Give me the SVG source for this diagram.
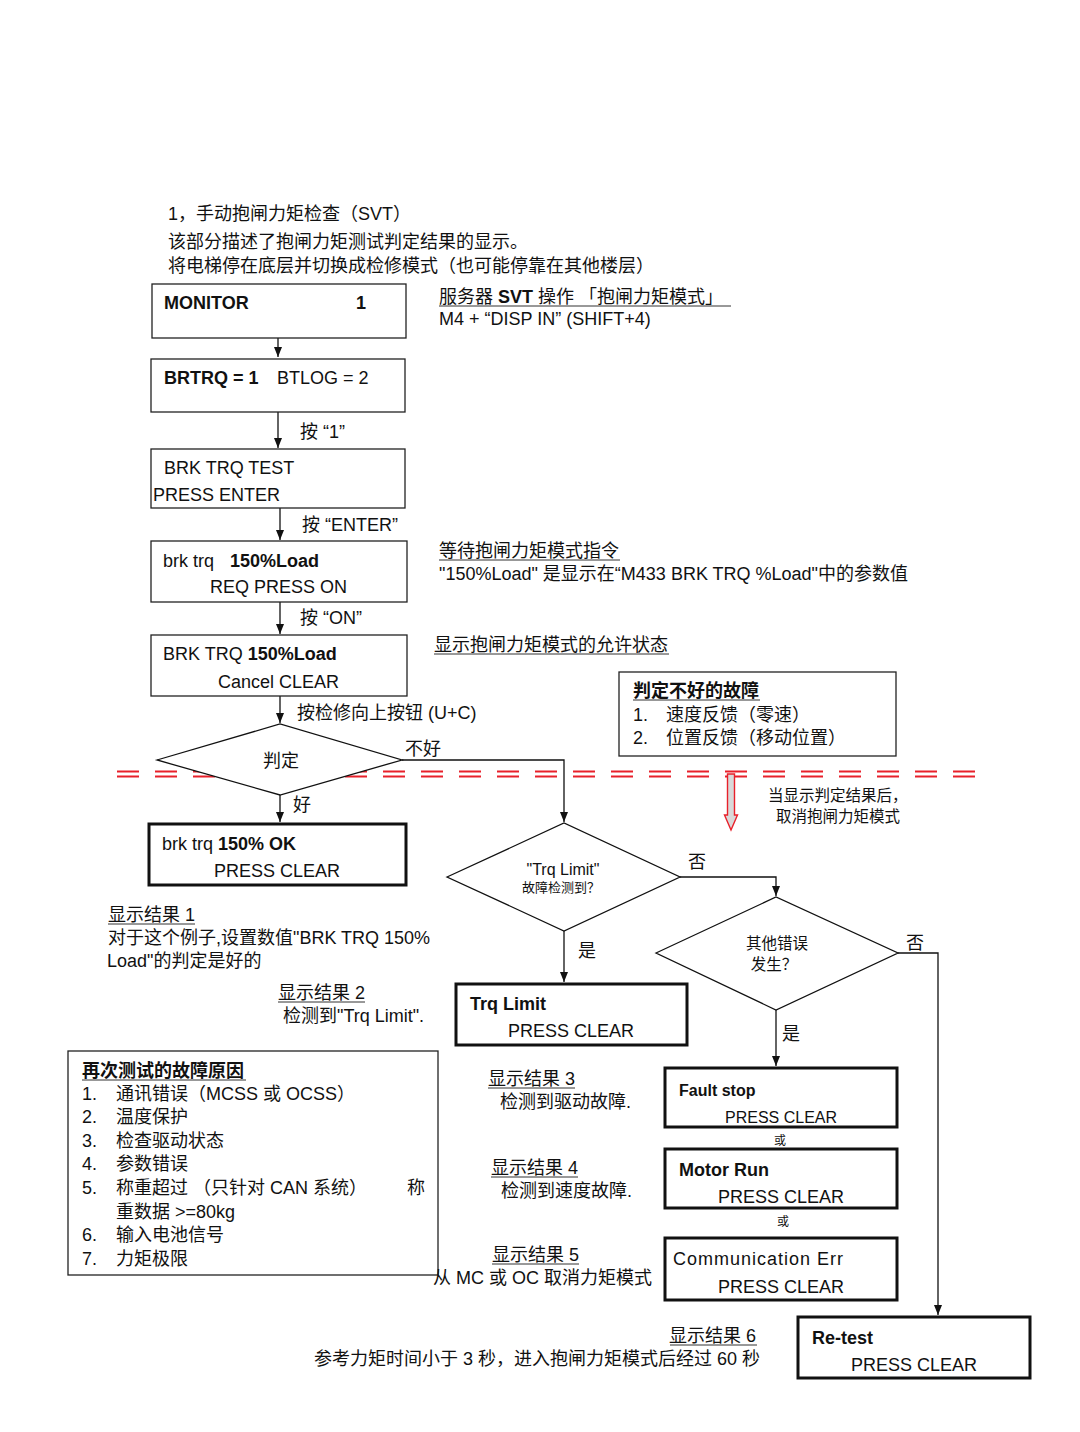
<svg xmlns="http://www.w3.org/2000/svg" width="1080" height="1432" viewBox="0 0 1080 1432">
<defs>
<style>
text{font-family:"Liberation Sans","Noto Sans CJK SC",sans-serif;fill:#111;font-size:18px}
.cn{font-size:18px}
.b{font-weight:bold}
.s15{font-size:15.5px}
.s13{font-size:13px}
.s12{font-size:12px}
.f16{font-size:16px}
.f17{font-size:17px}
.box{fill:#fff;stroke:#222;stroke-width:1.3}
.tbox{fill:#fff;stroke:#111;stroke-width:3}
.dia{fill:#fff;stroke:#111;stroke-width:1.3}
.ln{fill:none;stroke:#111;stroke-width:1.3}
.ul{stroke:#333;stroke-width:1}
.red{stroke:#e8202a;stroke-width:2.2;stroke-dasharray:22 16;fill:none}
</style>
<marker id="arr" viewBox="0 0 10 10" refX="10" refY="5" markerWidth="10" markerHeight="10" markerUnits="userSpaceOnUse" orient="auto"><path d="M0,1 L10,5 L0,9 z" fill="#111"/></marker>
</defs>
<rect width="1080" height="1432" fill="#fff"/>

<g id="header">
<text class="cn" x="168" y="220">1，手动抱闸力矩检查（SVT）</text>
<text class="cn" x="168" y="248">该部分描述了抱闸力矩测试判定结果的显示。</text>
<text class="cn" x="168" y="272">将电梯停在底层并切换成检修模式（也可能停靠在其他楼层）</text>
</g>

<g id="red-line">
<line class="red" x1="117" y1="771.5" x2="975" y2="771.5"/>
<line class="red" x1="117" y1="776.5" x2="975" y2="776.5"/>
<path d="M727.5,774 L734.5,774 L734.5,815 L737.5,815 L731,830 L724.5,815 L727.5,815 Z" fill="#d9d9d9" stroke="#e8202a" stroke-width="1.4"/>
</g>

<g id="connectors">
<line class="ln" x1="278" y1="338" x2="278" y2="357" marker-end="url(#arr)"/>
<line class="ln" x1="278" y1="412" x2="278" y2="448" marker-end="url(#arr)"/>
<line class="ln" x1="280" y1="508" x2="280" y2="540" marker-end="url(#arr)"/>
<line class="ln" x1="280" y1="602" x2="280" y2="634" marker-end="url(#arr)"/>
<line class="ln" x1="280" y1="696" x2="280" y2="723" marker-end="url(#arr)"/>
<line class="ln" x1="280" y1="795" x2="280" y2="822" marker-end="url(#arr)"/>
<polyline class="ln" points="402,760 564,760 564,822" marker-end="url(#arr)"/>
<polyline class="ln" points="680,877 776,877 776,896" marker-end="url(#arr)"/>
<line class="ln" x1="564" y1="931" x2="564" y2="982" marker-end="url(#arr)"/>
<polyline class="ln" points="898,953 938,953 938,1315" marker-end="url(#arr)"/>
<line class="ln" x1="776" y1="1010" x2="776" y2="1066" marker-end="url(#arr)"/>
<text class="cn" x="300" y="438">按 “1”</text>
<text class="cn" x="302" y="531">按 “ENTER”</text>
<text class="cn" x="300" y="624">按 “ON”</text>
<text class="cn" x="297" y="719">按检修向上按钮 (U+C)</text>
<text class="cn" x="405" y="755">不好</text>
<text class="cn" x="293" y="811">好</text>
<text class="cn" x="688" y="868">否</text>
<text class="cn" x="578" y="957">是</text>
<text class="cn" x="906" y="949">否</text>
<text class="cn" x="782" y="1040">是</text>
</g>

<g id="monitor">
<rect class="box" x="152" y="284" width="254" height="54"/>
<text class="b" x="164" y="309">MONITOR</text>
<text class="b" x="356" y="309">1</text>
</g>

<g id="svt-note">
<text class="cn" x="439" y="303">服务器 <tspan class="b">SVT</tspan> 操作 「抱闸力矩模式」</text>
<line class="ul" x1="439" y1="306" x2="731" y2="306"/>
<text x="439" y="325">M4 + “DISP IN” (SHIFT+4)</text>
</g>

<g id="brtrq">
<rect class="box" x="151" y="359" width="254" height="53"/>
<text x="164" y="384"><tspan class="b">BRTRQ = 1</tspan><tspan x="277">BTLOG = 2</tspan></text>
</g>

<g id="brk-trq-test">
<rect class="box" x="151" y="449" width="254" height="59"/>
<text x="164" y="474">BRK TRQ TEST</text>
<text x="153" y="501">PRESS ENTER</text>
</g>

<g id="brk-req">
<rect class="box" x="151" y="541" width="256" height="61"/>
<text x="163" y="567">brk trq <tspan x="230" class="b">150%Load</tspan></text>
<text x="210" y="593">REQ PRESS ON</text>
</g>

<g id="wait-note">
<text class="cn" x="439" y="557">等待抱闸力矩模式指令</text>
<line class="ul" x1="439" y1="560" x2="620" y2="560"/>
<text class="cn" x="439" y="580">"150%Load" 是显示在“M433 BRK TRQ %Load"中的参数值</text>
</g>

<g id="brk-cancel">
<rect class="box" x="151" y="635" width="256" height="61"/>
<text x="163" y="660">BRK TRQ <tspan class="b">150%Load</tspan></text>
<text x="218" y="688">Cancel CLEAR</text>
</g>

<g id="allow-note">
<text class="cn" x="434" y="651">显示抱闸力矩模式的允许状态</text>
<line class="ul" x1="434" y1="654" x2="669" y2="654"/>
</g>

<g id="bad-faults">
<rect class="box" x="619" y="672" width="277" height="84"/>
<text class="cn b" x="633" y="697">判定不好的故障</text>
<line class="ul" x1="633" y1="700" x2="760" y2="700"/>
<text class="cn" x="633" y="721">1.<tspan x="666">速度反馈（零速）</tspan></text>
<text class="cn" x="633" y="744">2.<tspan x="666">位置反馈（移动位置）</tspan></text>
</g>

<g id="judge">
<polygon class="dia" points="157,760 280,724 402,760 280,795"/>
<text class="cn" x="281" y="767" text-anchor="middle">判定</text>
</g>

<g id="cancel-note">
<text class="s15" x="768" y="801">当显示判定结果后，</text>
<text class="s15" x="776" y="822">取消抱闸力矩模式</text>
</g>

<g id="ok-box">
<rect class="tbox" x="149" y="824" width="257" height="61"/>
<text x="162" y="850">brk trq <tspan class="b">150% OK</tspan></text>
<text x="214" y="877">PRESS CLEAR</text>
</g>

<g id="trq-limit-q">
<polygon class="dia" points="447,877 564,823 680,877 564,931"/>
<text class="f16" x="563" y="875" text-anchor="middle">"Trq Limit"</text>
<text class="s13" x="561" y="892" text-anchor="middle">故障检测到？</text>
</g>

<g id="other-err-q">
<polygon class="dia" points="656,953 776,897 898,953 776,1010"/>
<text class="s15" x="777" y="949" text-anchor="middle">其他错误</text>
<text class="s15" x="774" y="970" text-anchor="middle">发生？</text>
</g>

<g id="result1">
<text class="cn" x="108" y="921">显示结果 1</text>
<line class="ul" x1="108" y1="924" x2="195" y2="924"/>
<text class="cn" x="108" y="944">对于这个例子,设置数值"BRK TRQ 150%</text>
<text class="cn" x="107" y="967">Load"的判定是好的</text>
</g>

<g id="result2">
<text class="cn" x="278" y="999">显示结果 2</text>
<line class="ul" x1="278" y1="1002" x2="365" y2="1002"/>
<text class="cn" x="283" y="1022">检测到"Trq Limit".</text>
</g>

<g id="trq-limit-box">
<rect class="tbox" x="456" y="984" width="231" height="61"/>
<text class="b" x="470" y="1010">Trq Limit</text>
<text x="508" y="1037">PRESS CLEAR</text>
</g>

<g id="retest-reasons">
<rect class="box" x="68" y="1051" width="370" height="224"/>
<text class="cn b" x="82" y="1077">再次测试的故障原因</text>
<line class="ul" x1="82" y1="1080" x2="246" y2="1080"/>
<text class="cn" x="82" y="1100">1.<tspan x="116">通讯错误（MCSS 或 OCSS）</tspan></text>
<text class="cn" x="82" y="1123">2.<tspan x="116">温度保护</tspan></text>
<text class="cn" x="82" y="1147">3.<tspan x="116">检查驱动状态</tspan></text>
<text class="cn" x="82" y="1170">4.<tspan x="116">参数错误</tspan></text>
<text class="cn" x="82" y="1194">5.<tspan x="116">称重超过 （只针对 CAN 系统）</tspan><tspan x="407">称</tspan></text>
<text class="cn" x="116" y="1218">重数据 &gt;=80kg</text>
<text class="cn" x="82" y="1241">6.<tspan x="116">输入电池信号</tspan></text>
<text class="cn" x="82" y="1265">7.<tspan x="116">力矩极限</tspan></text>
</g>

<g id="result3">
<text class="cn" x="488" y="1085">显示结果 3</text>
<line class="ul" x1="488" y1="1088" x2="575" y2="1088"/>
<text class="cn" x="500" y="1108">检测到驱动故障.</text>
</g>

<g id="result4">
<text class="cn" x="491" y="1174">显示结果 4</text>
<line class="ul" x1="491" y1="1177" x2="578" y2="1177"/>
<text class="cn" x="501" y="1197">检测到速度故障.</text>
</g>

<g id="result5">
<text class="cn" x="492" y="1261">显示结果 5</text>
<line class="ul" x1="492" y1="1264" x2="579" y2="1264"/>
<text class="cn" x="433" y="1284">从 MC 或 OC 取消力矩模式</text>
</g>

<g id="fault-stop">
<rect class="tbox" x="665" y="1068" width="232" height="59"/>
<text class="b f16" x="679" y="1096">Fault stop</text>
<text class="f16" x="725" y="1123">PRESS CLEAR</text>
</g>
<text class="s12" x="780" y="1145" text-anchor="middle">或</text>

<g id="motor-run">
<rect class="tbox" x="665" y="1149" width="232" height="59"/>
<text class="b" x="679" y="1176">Motor Run</text>
<text x="718" y="1203">PRESS CLEAR</text>
</g>
<text class="s12" x="783" y="1226" text-anchor="middle">或</text>

<g id="comm-err">
<rect class="tbox" x="665" y="1238" width="232" height="62"/>
<text x="673" y="1265" letter-spacing="1">Communication Err</text>
<text x="718" y="1293">PRESS CLEAR</text>
</g>

<g id="result6">
<text class="cn" x="756" y="1342" text-anchor="end">显示结果 6</text>
<line class="ul" x1="670" y1="1345" x2="757" y2="1345"/>
<text class="cn" x="314" y="1365">参考力矩时间小于 3 秒，进入抱闸力矩模式后经过 60 秒</text>
</g>

<g id="retest">
<rect class="tbox" x="798" y="1317" width="232" height="61"/>
<text class="b" x="812" y="1344">Re-test</text>
<text x="851" y="1371">PRESS CLEAR</text>
</g>
</svg>
